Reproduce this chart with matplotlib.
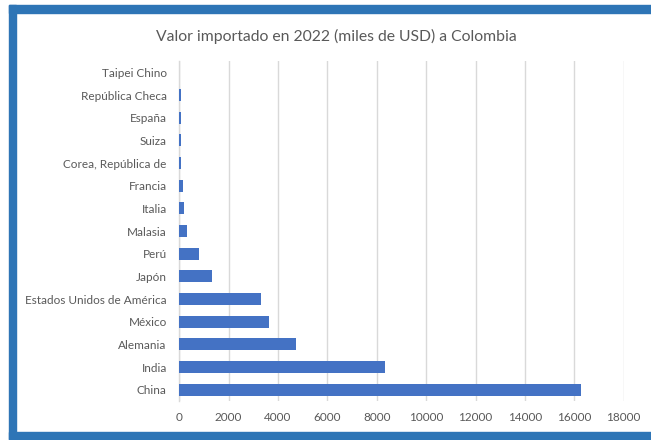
import matplotlib
matplotlib.use("Agg")
import matplotlib.pyplot as plt
from matplotlib.patches import Rectangle

# Importaciones a Colombia en 2022, miles de USD
paises = [
    "China", "India", "Alemania", "México", "Estados Unidos de América",
    "Japón", "Perú", "Malasia", "Italia", "Francia",
    "Corea, República de", "Suiza", "España", "República Checa", "Taipei Chino",
]
valores = [16260, 8350, 4720, 3630, 3300, 1310, 810, 310, 200, 160, 70, 50, 50, 50, 5]
ticks_x = [0, 2000, 4000, 6000, 8000, 10000, 12000, 14000, 16000, 18000]

W, H = 651, 440
fig = plt.figure(figsize=(W / 100, H / 100), dpi=100)
fig.patch.set_facecolor("white")

# Marco azul alrededor del gráfico
marco = "#2E75B6"
fig.patches.append(Rectangle((9 / W, 1 - 13 / H), 1 - 9 / W, 8 / H,
                             transform=fig.transFigure, color=marco, zorder=0))
fig.patches.append(Rectangle((9 / W, 1 - 440 / H), 7 / W, 435 / H,
                             transform=fig.transFigure, color=marco, zorder=0))
fig.patches.append(Rectangle((9 / W, 1 - 439 / H), 1 - 9 / W, 7 / H,
                             transform=fig.transFigure, color=marco, zorder=0))

x0, x1 = 179.3, 623.7
y_top, y_bot = 61, 401
ax = fig.add_axes([x0 / W, 1 - y_bot / H, (x1 - x0) / W, (y_bot - y_top) / H])

pos = list(range(len(paises)))
ax.barh(pos, valores, height=0.53, color="#4472C4", zorder=3)
ax.set_ylim(-0.5, len(paises) - 0.5)
ax.set_xlim(0, 18000)
ax.set_xticks(ticks_x)
ax.set_xticklabels([str(t) for t in ticks_x])
ax.set_yticks(pos)
ax.set_yticklabels(paises)

ax.grid(axis="x", color="#D9D9D9", linewidth=1, zorder=0)
for s in ["top", "right", "bottom"]:
    ax.spines[s].set_visible(False)
ax.spines["left"].set_color("#D9D9D9")
ax.spines["left"].set_linewidth(1)
ax.tick_params(axis="both", length=0, labelcolor="#595959", labelsize=8.5)
ax.tick_params(axis="y", pad=9)
ax.tick_params(axis="x", pad=8)
for lbl in ax.get_xticklabels() + ax.get_yticklabels():
    lbl.set_fontfamily("Lato")

fig.text(336 / W, 1 - 36 / H, "Valor importado en 2022 (miles de USD) a Colombia",
         ha="center", va="center", fontsize=11.3, color="#595959", family="Lato")

fig.savefig("out.png", dpi=100)
